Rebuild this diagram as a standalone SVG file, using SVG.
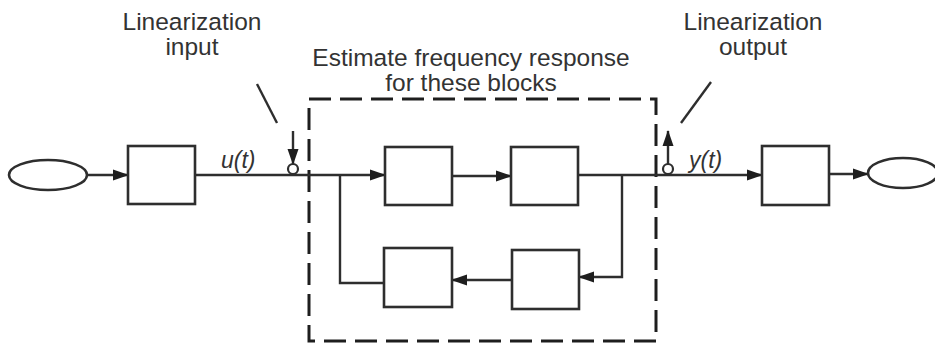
<svg xmlns="http://www.w3.org/2000/svg" width="935" height="348" viewBox="0 0 935 348">
<defs>
<style>
.blk{fill:#fff;stroke:#2e2e2e;stroke-width:2.6}
.ln{fill:none;stroke:#2e2e2e;stroke-width:2.4}
.lbl{font-family:"Liberation Sans",Arial,sans-serif;font-size:24.5px;fill:#333;text-anchor:middle}
.sig{font-family:"Liberation Sans",Arial,sans-serif;font-size:23px;font-style:italic;fill:#333}
</style>
<marker id="ah" markerWidth="16" markerHeight="12" refX="15" refY="6" orient="auto" markerUnits="userSpaceOnUse">
<path d="M0,0.5 L16,6 L0,11.5 Z" fill="#1e1e1e"/>
</marker>
</defs>
<rect width="935" height="348" fill="#fff"/>
<g id="labels">
<text class="lbl" x="192" y="30">Linearization</text>
<text class="lbl" x="192" y="55">input</text>
<text class="lbl" x="471" y="66">Estimate frequency response</text>
<text class="lbl" x="471" y="91">for these blocks</text>
<text class="lbl" x="753" y="30">Linearization</text>
<text class="lbl" x="753" y="55">output</text>
<text class="sig" x="221" y="168">u(t)</text>
<text class="sig" x="689" y="168">y(t)</text>
</g>
<g id="region">
<rect x="309" y="99" width="347" height="242" fill="none" stroke="#1e1e1e" stroke-width="3" stroke-dasharray="22 9"/>
</g>
<g id="connectors">
<line class="ln" x1="87" y1="175" x2="128" y2="175" marker-end="url(#ah)"/>
<line class="ln" x1="195" y1="175" x2="385" y2="175" marker-end="url(#ah)"/>
<polyline class="ln" points="340,175 340,283 384,283"/>
<line class="ln" x1="452" y1="176" x2="511" y2="176" marker-end="url(#ah)"/>
<line class="ln" x1="578" y1="175" x2="762" y2="175" marker-end="url(#ah)"/>
<polyline class="ln" points="622,175 622,277 579,277" marker-end="url(#ah)"/>
<line class="ln" x1="512" y1="280" x2="452" y2="280" marker-end="url(#ah)"/>
<line class="ln" x1="829" y1="174" x2="868" y2="174" marker-end="url(#ah)"/>
<line class="ln" x1="293" y1="131" x2="293" y2="164" marker-end="url(#ah)"/>
<line class="ln" x1="668" y1="164" x2="668" y2="131" marker-end="url(#ah)"/>
<line class="ln" x1="257" y1="84" x2="277" y2="123"/>
<line class="ln" x1="711" y1="82" x2="681" y2="123"/>
</g>
<g id="src"><ellipse cx="48" cy="175" rx="39" ry="15" class="blk"/></g>
<g id="b1"><rect x="128" y="146" width="67" height="58" class="blk"/></g>
<g id="b2"><rect x="385" y="147" width="67" height="58" class="blk"/></g>
<g id="b3"><rect x="511" y="147" width="67" height="58" class="blk"/></g>
<g id="b4"><rect x="384" y="248" width="68" height="59" class="blk"/></g>
<g id="b5"><rect x="512" y="250" width="67" height="59" class="blk"/></g>
<g id="b6"><rect x="762" y="146" width="67" height="59" class="blk"/></g>
<g id="sink"><ellipse cx="903" cy="173" rx="35" ry="15" class="blk"/></g>
<g id="inpt"><circle cx="293" cy="169" r="5" fill="#fff" stroke="#2e2e2e" stroke-width="2.2"/></g>
<g id="outpt"><circle cx="668" cy="169" r="5" fill="#fff" stroke="#2e2e2e" stroke-width="2.2"/></g>
</svg>
